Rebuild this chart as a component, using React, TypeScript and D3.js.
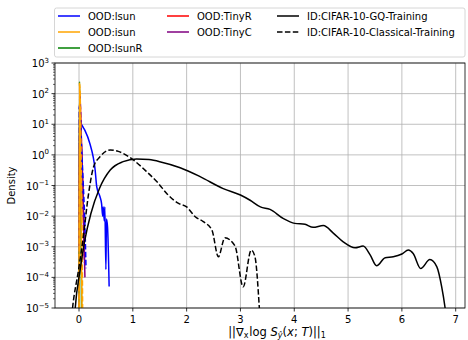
import React from 'react';
import * as d3 from 'd3';

// ID curves
const gqX = [-0.09, -0.07, 0.02, 0.11, 0.22, 0.38, 0.58, 0.82, 1.07, 1.3, 1.5, 1.88, 2.25, 2.68, 3.0, 3.18, 3.37, 3.55, 3.8, 4.01, 4.2, 4.35, 4.54, 4.73, 4.91, 5.13, 5.28, 5.41, 5.53, 5.69, 5.84, 6.0, 6.12, 6.21, 6.35, 6.52, 6.65, 6.74, 6.8, 6.84];
const gqY = [3e-6, 1e-5, 1.7e-4, 1.7e-3, 1.2e-2, 8e-2, 3.2e-1, 6.0e-1, 7.4e-1, 7.0e-1, 6.0e-1, 3.8e-1, 1.95e-1, 7.9e-2, 4.9e-2, 3.3e-2, 2.0e-2, 1.66e-2, 8.3e-3, 5.8e-3, 5.4e-3, 4.3e-3, 4.9e-3, 2.75e-3, 1.45e-3, 9.3e-4, 1.05e-3, 5.4e-4, 2.4e-4, 4.4e-4, 4.7e-4, 5.8e-4, 7.8e-4, 6.0e-4, 1.95e-4, 3.8e-4, 2.2e-4, 4.9e-5, 1.1e-5, 3e-6];

const clsX = [-0.15, -0.12, -0.01, 0.08, 0.17, 0.27, 0.39, 0.58, 0.73, 1.01, 1.26, 1.47, 1.63, 1.85, 2.0, 2.16, 2.31, 2.47, 2.59, 2.71, 2.9, 3.05, 3.2, 3.27, 3.35, 3.37];
const clsY = [3e-6, 1e-5, 1.7e-4, 2.1e-3, 4.3e-2, 4.0e-1, 8.7e-1, 1.45, 1.3, 6.8e-1, 2.8e-1, 1.2e-1, 5.5e-2, 2.6e-2, 2.0e-2, 9.5e-3, 6.6e-3, 3.5e-3, 4.7e-4, 1.95e-3, 1.05e-3, 4.9e-5, 7.8e-4, 4.7e-4, 1.1e-5, 3e-6];

// OOD curves (GQ training, solid)
const lsunX = [0.0, 0.005, 0.03, 0.06, 0.11, 0.2, 0.3, 0.33, 0.39, 0.42, 0.44, 0.45, 0.47, 0.48, 0.5, 0.51, 0.53, 0.56];
const lsunY = [3e-5, 37, 12, 9, 6.3, 2.4, 0.32, 0.09, 0.043, 0.025, 0.01, 0.02, 0.007, 0.02, 1.8e-4, 8e-3, 4.5e-3, 5e-5];
const isunX = [0.0, 0.008, 0.02, 0.035, 0.05, 0.06];
const isunY = [1e-6, 230, 8, 0.05, 1e-4, 1e-6];
const lsunRX = [0.0, 0.008, 0.03, 0.05];
const lsunRY = [1e-6, 250, 1, 1e-6];
const tinyRX = [0.005, 0.015, 0.03, 0.06, 0.08, 0.1];
const tinyRY = [1e-3, 100, 20, 0.5, 0.02, 5e-4];
const tinyCX = [0.005, 0.015, 0.03, 0.06, 0.09, 0.11];
const tinyCY = [1e-3, 80, 10, 0.3, 5e-3, 1e-4];

// OOD curves (classical training, dashed)
const lsunDX = [0.0, 0.005, 0.04, 0.08, 0.11, 0.13];
const lsunDY = [1e-6, 40, 3, 0.1, 5e-3, 2e-4];
const isunDX = [0.0, 0.015, 0.04, 0.06, 0.07];
const isunDY = [1e-6, 200, 0.5, 1e-3, 1e-6];
const tinyCDX = [0.005, 0.02, 0.05, 0.08, 0.1];
const tinyCDY = [1e-3, 60, 1, 0.01, 3e-4];

const xTicks = [0, 1, 2, 3, 4, 5, 6, 7];
const yExps = [3, 2, 1, 0, -1, -2, -3, -4, -5];

const legendItems = [
  { label: 'OOD:lsun', color: '#0000ff', dash: false, col: 0, row: 0 },
  { label: 'OOD:isun', color: '#ffa500', dash: false, col: 0, row: 1 },
  { label: 'OOD:lsunR', color: '#008000', dash: false, col: 0, row: 2 },
  { label: 'OOD:TinyR', color: '#ff0000', dash: false, col: 1, row: 0 },
  { label: 'OOD:TinyC', color: '#800080', dash: false, col: 1, row: 1 },
  { label: 'ID:CIFAR-10-GQ-Training', color: '#000000', dash: false, col: 2, row: 0 },
  { label: 'ID:CIFAR-10-Classical-Training', color: '#000000', dash: true, col: 2, row: 1 },
];

const W = 468, H = 340;
const L = 55, R = 465, T = 63, B = 308;
const font = 'DejaVu Sans, sans-serif';

const App = () => {
  const x = d3.scaleLinear().domain([-0.446, 7.173]).range([L, R]);
  const y = d3.scaleLog().domain([1e-5, 1e3]).range([B, T]);

  const line = d3.line<[number, number]>()
    .x(d => x(d[0]))
    .y(d => y(d[1]))
    .curve(d3.curveMonotoneX);
  const path = (xs: number[], ys: number[]) => line(xs.map((v, i) => [v, ys[i]] as [number, number])) || '';

  const series = [
    { xs: lsunX, ys: lsunY, color: '#0000ff', dash: false },
    { xs: lsunRX, ys: lsunRY, color: '#008000', dash: false },
    { xs: tinyRX, ys: tinyRY, color: '#ff0000', dash: false },
    { xs: tinyCX, ys: tinyCY, color: '#800080', dash: false },
    { xs: tinyCDX, ys: tinyCDY, color: '#800080', dash: true },
    { xs: lsunDX, ys: lsunDY, color: '#0000ff', dash: true },
    { xs: isunX, ys: isunY, color: '#ffa500', dash: false },
    { xs: isunDX, ys: isunDY, color: '#ffa500', dash: true },
    { xs: gqX, ys: gqY, color: '#000000', dash: false },
    { xs: clsX, ys: clsY, color: '#000000', dash: true },
  ];

  const minor: number[] = [];
  for (let e = -5; e < 3; e++) for (let m = 2; m <= 9; m++) minor.push(m * Math.pow(10, e));

  const colX = [58, 167, 277];
  const rowY = [16, 32, 48];

  return (
    <svg width={W} height={H} style={{ position: 'absolute', left: 0, top: 0 }} fontFamily={font}>
      <defs>
        <clipPath id="plot"><rect x={L} y={T} width={R - L} height={B - T} /></clipPath>
      </defs>
      <rect width={W} height={H} fill="#fff" />
      {/* grid */}
      <g stroke="#b0b0b0" strokeWidth={0.8}>
        {xTicks.map(t => <line key={t} x1={x(t)} x2={x(t)} y1={T} y2={B} />)}
        {yExps.map(e => <line key={e} x1={L} x2={R} y1={y(Math.pow(10, e))} y2={y(Math.pow(10, e))} />)}
      </g>
      {/* curves */}
      <g clipPath="url(#plot)" fill="none" strokeWidth={1.5} strokeLinejoin="round">
        {series.map((s, i) => (
          <path key={i} d={path(s.xs, s.ys)} stroke={s.color} strokeDasharray={s.dash ? '5.5,2.4' : undefined} />
        ))}
      </g>
      {/* spines */}
      <rect x={L} y={T} width={R - L} height={B - T} fill="none" stroke="#000" strokeWidth={0.8} />
      {/* x ticks */}
      <g fontSize={10} textAnchor="middle">
        {xTicks.map(t => (
          <g key={t}>
            <line x1={x(t)} x2={x(t)} y1={B} y2={B + 3.5} stroke="#000" strokeWidth={0.8} />
            <text x={x(t)} y={B + 14.5}>{t}</text>
          </g>
        ))}
      </g>
      {/* y ticks */}
      <g>
        {minor.map((v, i) => <line key={i} x1={L - 2} x2={L} y1={y(v)} y2={y(v)} stroke="#000" strokeWidth={0.6} />)}
        {yExps.map(e => (
          <g key={e}>
            <line x1={L - 3.5} x2={L} y1={y(Math.pow(10, e))} y2={y(Math.pow(10, e))} stroke="#000" strokeWidth={0.8} />
            <text x={L - 6} y={y(Math.pow(10, e)) + 4} textAnchor="end" fontSize={10}>
              10<tspan fontSize={7} dy={-4.5}>{e < 0 ? '\u2212' + (-e) : e}</tspan>
            </text>
          </g>
        ))}
      </g>
      {/* axis labels */}
      <text transform={`translate(15,${(T + B) / 2}) rotate(-90)`} textAnchor="middle" fontSize={10}>Density</text>
      <text x={277} y={336} fontSize={11.5} textAnchor="middle">
        ||∇<tspan fontSize={8} dy={2}>x</tspan><tspan dy={-2} dx={1}>log </tspan><tspan fontStyle="italic">S</tspan><tspan fontSize={8} dy={2} fontStyle="italic">ŷ</tspan><tspan dy={-2}>(</tspan><tspan fontStyle="italic">x</tspan>; <tspan fontStyle="italic">T</tspan>)||<tspan fontSize={8} dy={2}>1</tspan>
      </text>
      {/* legend */}
      <rect x={54.5} y={8} width={410.5} height={49} rx={2} fill="#fff" fillOpacity={0.8} stroke="#cccccc" strokeWidth={0.8} />
      {legendItems.map(it => (
        <g key={it.label}>
          <line x1={colX[it.col]} x2={colX[it.col] + 22} y1={rowY[it.row]} y2={rowY[it.row]} stroke={it.color} strokeWidth={1.5} strokeDasharray={it.dash ? '5.5,2.4' : undefined} />
          <text x={colX[it.col] + 30} y={rowY[it.row] + 3.5} fontSize={10}>{it.label}</text>
        </g>
      ))}
    </svg>
  );
};

export default App;
